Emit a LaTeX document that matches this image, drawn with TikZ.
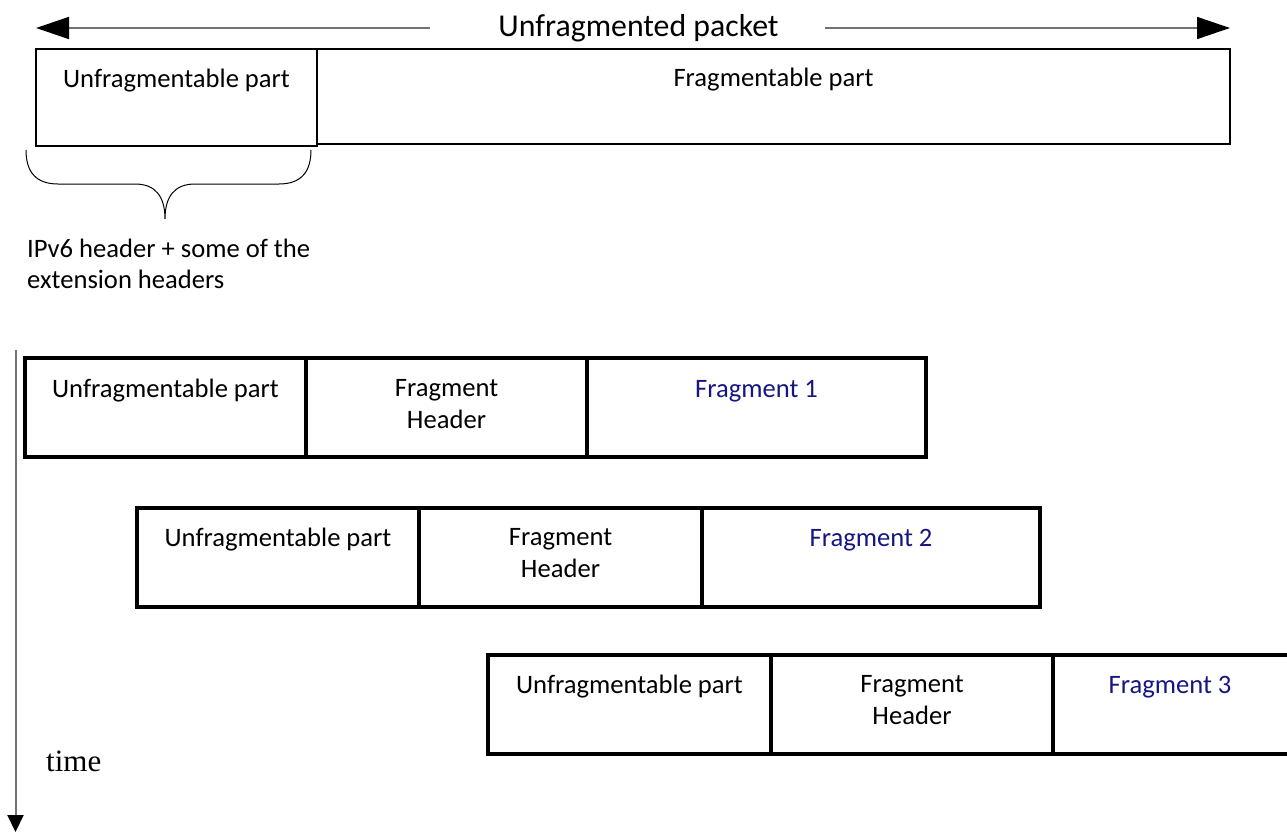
\documentclass[tikz,border=0pt]{standalone}
\usepackage{fontspec}
\setmainfont{Carlito}
\newfontfamily\timefont{Liberation Serif}
\usetikzlibrary{arrows.meta}
\definecolor{navy}{RGB}{22,22,130}
\definecolor{lgray}{RGB}{115,115,115}
\begin{document}
\begin{tikzpicture}[x=1pt,y=-1pt,
  topcell/.style={draw, line width=2pt, inner sep=0pt, outer sep=0pt, anchor=north west},
  cell/.style={draw, line width=3.5pt, inner sep=0pt, outer sep=0pt, anchor=north west, minimum height=99pt},
  lbl/.style={inner sep=0pt, anchor=base, align=center, font=\fontsize{26.6}{31.5}\selectfont},
  frag/.style={lbl, text=navy},
  gline/.style={draw=lgray, line width=1.5pt},
  bigtip/.style={-{Triangle[length=33pt,width=22pt,color=black]}},
  smalltip/.style={-{Triangle[length=17pt,width=16pt,color=black]}},
  bracepath/.style={draw=black, line width=1pt}]
\useasboundingbox (0,0) rectangle (1287,832);

% top arrow with title
\node[lbl, font=\fontsize{31.8}{36}\selectfont] (title) at (638.5,36.7) {Unfragmented packet};
\coordinate (L) at (36,28);
\coordinate (R) at (1230,28);
\coordinate (gl) at (430,28);
\coordinate (gr) at (825,28);
\draw[gline, bigtip] (gl) -- (L);
\draw[gline, bigtip] (gr) -- (R);

% unfragmented packet
\node[topcell, minimum width=281pt, minimum height=97pt] (u0) at (36,49) {};
\node[topcell, minimum width=913pt, minimum height=95pt] (f0) at (317,49) {};
\node[lbl] (u0t) at (176.5,87.3) {Unfragmentable part};
\node[lbl] (f0t) at (773.5,86.7) {Fragmentable part};

% brace
\coordinate (b1) at (26,150);
\coordinate (b2) at (165,219);
\coordinate (b3) at (311,150);
\draw[bracepath] (b1) .. controls (26,172) and (36,184) .. (58,184)
  -- (135,184) .. controls (155,184) and (165,196) .. (b2)
  .. controls (165,196) and (175,184) .. (195,184)
  -- (279,184) .. controls (301,184) and (311,172) .. (b3);
\node[lbl, anchor=base west, align=left] (ipv6) at (27,288.5) {IPv6 header + some of the\\extension headers};

% time axis
\coordinate (t0) at (15.5,350);
\coordinate (t1) at (15.5,832);
\draw[gline, line width=2pt, smalltip] (t0) -- (t1);
\node[inner sep=0pt, anchor=base west, font=\timefont\fontsize{31}{36}\selectfont] (time) at (46,771.7) {time};

% row 1
\node[cell, minimum width=281pt] (u1) at (25,358) {};
\node[cell, minimum width=281pt] (h1) at (306,358) {};
\node[cell, minimum width=339pt] (d1) at (587,358) {};
\node[lbl] (u1t) at (165.5,397) {Unfragmentable part};
\node[lbl] (h1t) at (446.5,428) {Fragment\\Header};
\node[frag] (d1t) at (756.5,397) {Fragment 1};

% row 2
\node[cell, minimum width=282pt] (u2) at (137,508) {};
\node[cell, minimum width=283pt] (h2) at (419,508) {};
\node[cell, minimum width=338pt] (d2) at (702,508) {};
\node[lbl] (u2t) at (278,546) {Unfragmentable part};
\node[lbl] (h2t) at (560.5,577) {Fragment\\Header};
\node[frag] (d2t) at (871,546) {Fragment 2};

% row 3
\node[cell, minimum width=283pt] (u3) at (488,655) {};
\node[cell, minimum width=282pt] (h3) at (771,655) {};
\node[cell, minimum width=250pt] (d3) at (1053,655) {};
\node[lbl] (u3t) at (629.5,693) {Unfragmentable part};
\node[lbl] (h3t) at (912,724) {Fragment\\Header};
\node[frag] (d3t) at (1170,693) {Fragment 3};
\end{tikzpicture}
\end{document}
